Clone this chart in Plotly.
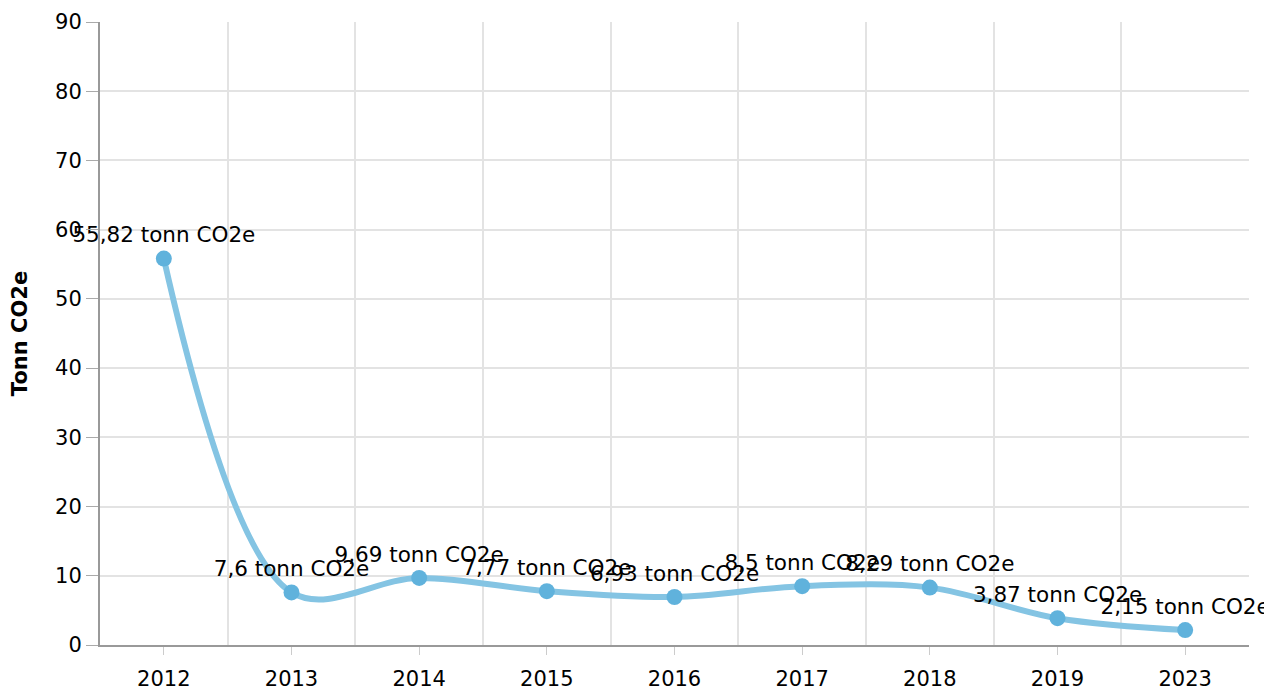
import plotly.graph_objects as go

years = ["2012", "2013", "2014", "2015", "2016", "2017", "2018", "2019", "2023"]
values = [55.82, 7.6, 9.69, 7.77, 6.93, 8.5, 8.29, 3.87, 2.15]
labels = ["55,82 tonn CO2e", "7,6 tonn CO2e", "9,69 tonn CO2e", "7,77 tonn CO2e",
          "6,93 tonn CO2e", "8,5 tonn CO2e", "8,29 tonn CO2e", "3,87 tonn CO2e",
          "2,15 tonn CO2e"]
y_title = "Tonn CO2e"

xpos = list(range(len(years)))
font = "DejaVu Sans, Verdana, sans-serif"

fig = go.Figure()
fig.add_trace(go.Scatter(
    x=xpos, y=values, mode="lines+markers+text",
    line=dict(shape="spline", smoothing=1.0, color="#84c4e3", width=6),
    marker=dict(size=16, color="#60b2dc"),
    text=labels, textposition="top center",
    textfont=dict(family=font, size=21.5, color="#000000"),
    cliponaxis=False, hoverinfo="skip",
))

# page body has an 8px margin, so the figure is sized to fit the window
fig.update_layout(
    width=1264, height=683,
    margin=dict(l=92, r=23, t=14, b=46),
    paper_bgcolor="white", plot_bgcolor="white",
    showlegend=False,
    font=dict(family=font, size=21, color="#000000"),
    xaxis=dict(
        range=[-0.5, 8.5], tickvals=xpos, ticktext=years,
        showgrid=False, zeroline=False, automargin=False,
        ticks="outside", ticklen=8, tickcolor="#cccccc", tickwidth=1,
        showline=True, linecolor="#999999", linewidth=2,
        ticklabelstandoff=6,
        minor=dict(tickvals=[i + 0.5 for i in xpos], showgrid=True,
                   gridcolor="#e3e3e3", gridwidth=1.5, ticks=""),
        tickfont=dict(size=21),
    ),
    yaxis=dict(
        range=[0, 90], dtick=10, showgrid=True, gridcolor="#e3e3e3", gridwidth=1.5,
        zeroline=False, ticks="outside", ticklen=12, tickcolor="#aaaaaa",
        showline=True, linecolor="#999999", linewidth=2, automargin=False,
        title=dict(text="<b>" + y_title + "</b>", font=dict(size=21), standoff=30),
        tickfont=dict(size=21),
    ),
)

fig.write_html("out.html")
